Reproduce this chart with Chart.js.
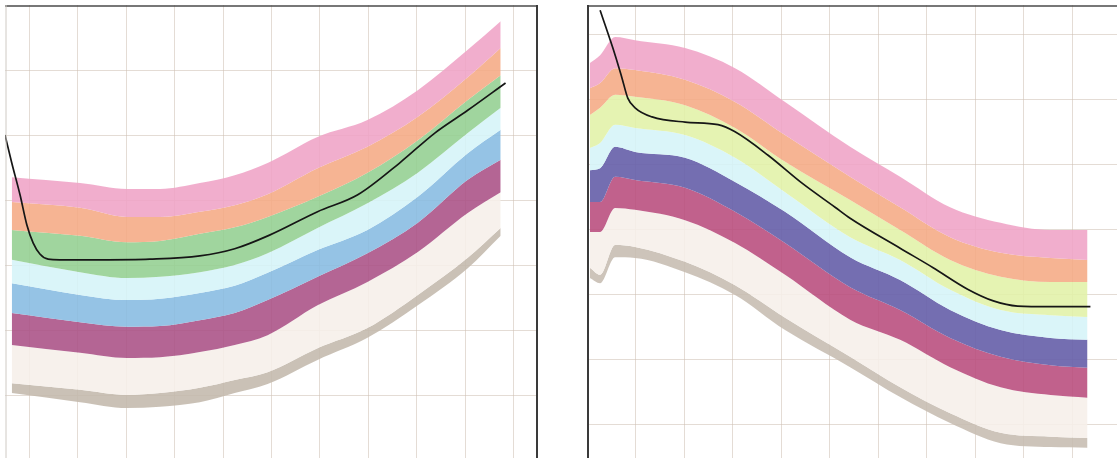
<!DOCTYPE html>
<html>
<head>
<meta charset="utf-8">
<script src="https://cdn.jsdelivr.net/npm/chart.js@4.4.1/dist/chart.umd.min.js"></script>
<style>
html, body { margin: 0; padding: 0; background: #fff; overflow: hidden; width: 1117px; height: 458px; }
#left { position: absolute; left: 5px; top: 5px; }
#right { position: absolute; left: 587px; top: 5px; }
</style>
</head>
<body>
<canvas id="left" width="533" height="455"></canvas>
<canvas id="right" width="534" height="485"></canvas>
<script>
// left panel: band edges, top to bottom
const leftX = [0.14, 1.55, 2.52, 3.2, 4.02, 4.74, 5.42, 6.45, 7.48, 8.52, 9.55, 10.23];
const leftPinkTop = [4.35, 4.26, 4.17, 4.17, 4.26, 4.38, 4.57, 4.97, 5.23, 5.69, 6.31, 6.75];
const leftPinkOrange = [3.97, 3.88, 3.74, 3.74, 3.82, 3.92, 4.09, 4.49, 4.82, 5.28, 5.89, 6.34];
const leftOrangeGreen = [3.54, 3.45, 3.35, 3.37, 3.48, 3.58, 3.74, 4.05, 4.42, 4.92, 5.54, 5.92];
const leftGreenCyan = [3.08, 2.89, 2.80, 2.82, 2.89, 3.00, 3.18, 3.57, 3.95, 4.42, 5.03, 5.42];
const leftCyanBlue = [2.72, 2.54, 2.46, 2.48, 2.57, 2.68, 2.88, 3.23, 3.54, 4.05, 4.72, 5.08];
const leftBluePurple = [2.26, 2.12, 2.05, 2.06, 2.15, 2.26, 2.46, 2.82, 3.18, 3.65, 4.31, 4.62];
const leftPurpleCream = [1.77, 1.65, 1.57, 1.58, 1.66, 1.77, 1.92, 2.38, 2.74, 3.20, 3.80, 4.12];
const leftCreamGray = [1.18, 1.08, 1.00, 1.03, 1.11, 1.23, 1.35, 1.72, 2.03, 2.54, 3.11, 3.57];
const leftGrayBottom = [1.03, 0.89, 0.80, 0.82, 0.89, 1.03, 1.17, 1.54, 1.88, 2.38, 2.95, 3.45];
const leftLineX = [0, 0.14, 0.31, 0.45, 0.58, 0.72, 0.89, 1.13, 1.96, 2.99, 4.02, 4.74, 5.46, 6.45, 7.28, 8.16, 8.87, 9.55, 10.33];
const leftLineY = [5.00, 4.57, 4.08, 3.62, 3.34, 3.17, 3.09, 3.08, 3.08, 3.09, 3.14, 3.25, 3.46, 3.82, 4.08, 4.58, 5.03, 5.38, 5.80];

// right panel
const rightX = [0.06, 0.27, 0.58, 0.99, 2.02, 3.05, 4.08, 5.42, 6.45, 7.48, 8.52, 9.55, 10.31];
const rightPinkTop = [6.57, 6.69, 6.97, 6.92, 6.80, 6.49, 5.97, 5.28, 4.82, 4.35, 4.11, 4.00, 4.00];
const rightPinkOrange = [6.18, 6.26, 6.49, 6.46, 6.31, 5.97, 5.46, 4.82, 4.35, 3.89, 3.65, 3.57, 3.54];
const rightOrangeLime = [5.77, 5.88, 6.08, 6.05, 5.92, 5.57, 5.05, 4.46, 4.00, 3.54, 3.28, 3.20, 3.20];
const rightLimeCyan = [5.26, 5.34, 5.62, 5.57, 5.46, 5.11, 4.58, 3.89, 3.54, 3.08, 2.77, 2.69, 2.66];
const rightCyanBlue = [4.92, 4.95, 5.28, 5.20, 5.11, 4.74, 4.28, 3.58, 3.23, 2.77, 2.46, 2.34, 2.31];
const rightBlueMagenta = [4.43, 4.43, 4.82, 4.77, 4.65, 4.28, 3.80, 3.12, 2.77, 2.34, 2.05, 1.92, 1.88];
const rightMagentaCream = [3.97, 3.97, 4.34, 4.31, 4.15, 3.80, 3.31, 2.62, 2.31, 1.89, 1.58, 1.46, 1.42];
const rightCreamGray = [3.42, 3.31, 3.77, 3.74, 3.51, 3.15, 2.65, 2.05, 1.58, 1.18, 0.88, 0.82, 0.80];
const rightGrayBottom = [3.26, 3.18, 3.58, 3.57, 3.35, 3.00, 2.46, 1.89, 1.43, 1.03, 0.72, 0.66, 0.65];
const rightLineX = [0.27, 0.58, 0.72, 0.84, 0.99, 1.34, 2.02, 2.70, 3.05, 3.73, 4.43, 5.11, 5.42, 6.45, 7.13, 7.84, 8.37, 8.87, 9.55, 10.37];
const rightLineY = [7.38, 6.69, 6.34, 6.03, 5.88, 5.74, 5.66, 5.62, 5.51, 5.15, 4.72, 4.35, 4.18, 3.72, 3.42, 3.09, 2.91, 2.83, 2.82, 2.82];

const leftColors = ['rgba(240,165,200,0.9)', 'rgba(245,172,135,0.9)', 'rgba(150,208,148,0.9)', 'rgba(214,244,248,0.9)',
    'rgba(138,188,226,0.9)', 'rgba(172,84,136,0.9)', 'rgba(246,240,234,0.9)', 'rgba(196,186,174,0.9)'];
const rightColors = ['rgba(240,165,200,0.9)', 'rgba(245,172,135,0.9)', 'rgba(226,242,170,0.9)', 'rgba(214,244,248,0.9)',
    'rgba(104,98,170,0.92)', 'rgba(186,80,128,0.9)', 'rgba(246,240,234,0.9)', 'rgba(200,190,178,0.9)'];

const framePlugin = {
    id: 'frame',
    afterDatasetsDraw(chart, args, opts) {
        const { ctx, chartArea: a } = chart;
        ctx.save();
        (opts.sides || []).forEach(function (s) {
            ctx.strokeStyle = s.color;
            ctx.lineWidth = s.width;
            ctx.beginPath();
            if (s.side === 'top') { ctx.moveTo(a.left, a.top + 1); ctx.lineTo(a.right, a.top + 1); }
            if (s.side === 'left') { ctx.moveTo(a.left + 1, a.top); ctx.lineTo(a.left + 1, a.bottom); }
            if (s.side === 'right') { ctx.moveTo(a.right - 1, a.top); ctx.lineTo(a.right - 1, a.bottom); }
            ctx.stroke();
        });
        ctx.restore();
    }
};

function pts(xs, ys) {
    return xs.map(function (x, i) { return { x: x, y: ys[i] }; });
}

function drawPanel(id, xs, edges, colors, lineX, lineY, yMax, xTicks, yTicks, sides) {
    const datasets = edges.map(function (e, i) {
        return {
            data: pts(xs, e),
            borderWidth: 0,
            pointRadius: 0,
            cubicInterpolationMode: 'monotone',
            backgroundColor: i === 0 ? 'transparent' : colors[i - 1],
            fill: i === 0 ? false : '-1'
        };
    });
    datasets.push({
        data: pts(lineX, lineY),
        borderColor: '#161616',
        borderWidth: 1.7,
        pointRadius: 0,
        cubicInterpolationMode: 'monotone',
        fill: false,
        order: -1
    });
    new Chart(document.getElementById(id), {
        type: 'line',
        data: { datasets: datasets },
        plugins: [framePlugin],
        options: {
            responsive: false,
            animation: false,
            layout: { padding: 0 },
            scales: {
                x: {
                    type: 'linear', min: 0, max: 11,
                    afterBuildTicks: function (s) { s.ticks = xTicks.map(function (v) { return { value: v }; }); },
                    ticks: { display: false },
                    grid: { color: 'rgba(205,192,178,0.55)', drawTicks: false },
                    border: { display: false }
                },
                y: {
                    type: 'linear', min: 0, max: yMax,
                    afterBuildTicks: function (s) { s.ticks = yTicks.map(function (v) { return { value: v }; }); },
                    ticks: { display: false },
                    grid: { color: 'rgba(205,192,178,0.55)', drawTicks: false },
                    border: { display: false }
                }
            },
            plugins: {
                legend: { display: false },
                tooltip: { enabled: false },
                frame: { sides: sides }
            }
        }
    });
}

drawPanel('left', leftX,
    [leftPinkTop, leftPinkOrange, leftOrangeGreen, leftGreenCyan, leftCyanBlue, leftBluePurple, leftPurpleCream, leftCreamGray, leftGrayBottom],
    leftColors, leftLineX, leftLineY, 7,
    [0.5, 1.5, 2.5, 3.5, 4.5, 5.5, 6.5, 7.5, 8.5, 9.5, 10.5],
    [1, 2, 3, 4, 5, 6],
    [{ side: 'top', color: '#4a4a4a', width: 1.5 }, { side: 'right', color: '#3a3a3a', width: 2 }, { side: 'left', color: '#cfcac4', width: 1 }]);

drawPanel('right', rightX,
    [rightPinkTop, rightPinkOrange, rightOrangeLime, rightLimeCyan, rightCyanBlue, rightBlueMagenta, rightMagentaCream, rightCreamGray, rightGrayBottom],
    rightColors, rightLineX, rightLineY, 7.4615,
    [1, 2, 3, 4, 5, 6, 7, 8, 9, 10],
    [1, 2, 3, 4, 5, 6, 7],
    [{ side: 'top', color: '#4a4a4a', width: 1.5 }, { side: 'left', color: '#3a3a3a', width: 2 }]);
</script>
</body>
</html>
